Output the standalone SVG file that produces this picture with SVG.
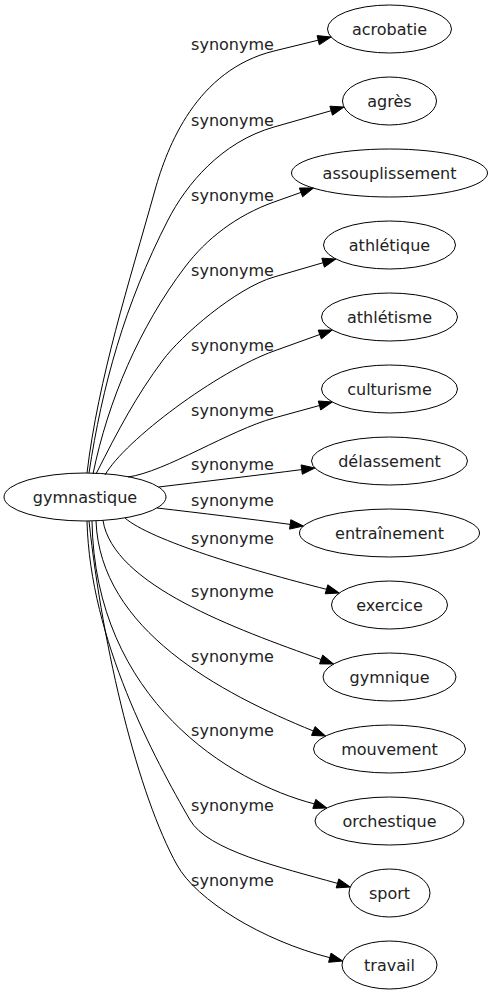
<svg xmlns="http://www.w3.org/2000/svg" width="493" height="995" viewBox="0 0 493 995">
<style>
  .node ellipse { fill: none; stroke: #000; stroke-width: 1; }
  text { font-family: "DejaVu Sans", "Liberation Sans", sans-serif; font-size: 16px; fill: #222; text-anchor: middle; }
  .edge path { fill: none; stroke: #000; stroke-width: 1; }
  .edge polygon { fill: #000; stroke: #000; stroke-width: 1; }
</style>
<rect width="493" height="995" fill="#fff"/>
<g id="edges" class="edge">
  <path d="M87,473 C98.6,377 129,283.4 155,190 C167.2,146.7 196.3,70 274,51 L318.2,40.2"/>
  <polygon points="331.1,37 319.3,44.8 317.1,35.6"/>
  <path d="M89,473 C102.2,385.9 124.6,304.5 168,220 C186.3,184.4 221.1,142.1 274,127 L331.2,110.7"/>
  <polygon points="344,107 332.5,115.2 329.9,106.2"/>
  <path d="M93,474 C108,400.5 139.7,326.8 185,267 C206.1,239.1 236.3,215.4 274,202 L301,192.4"/>
  <polygon points="313.5,188 302.6,196.8 299.4,188"/>
  <path d="M96,474 C118.5,429.5 136.1,396.1 163,360 C180.9,335.9 235.6,288.2 274,277 L323.1,262.7"/>
  <polygon points="335.9,259 324.4,267.2 321.8,258.2"/>
  <path d="M105,475 C125,440 217.5,371.3 274,351 L319.8,334.5"/>
  <polygon points="332.3,330 321.4,338.9 318.2,330.1"/>
  <path d="M128,477 C165,472 230,430 274,418 L319.5,405.5"/>
  <polygon points="332.3,402 320.7,410 318.3,401"/>
  <path d="M158.6,487 C200,482 260,475 301.7,469.6"/>
  <polygon points="314.9,468 302.3,474.3 301.1,464.9"/>
  <path d="M157,508 C200,513 250,519 290.2,524.4"/>
  <polygon points="303.4,526 289.6,529.1 290.8,519.7"/>
  <path d="M125,518 C150,540 250,570 326.5,589.3"/>
  <polygon points="339.3,593 325.2,593.8 327.8,584.8"/>
  <path d="M103,520.4 C113,585 236.4,629.2 321.1,659.5"/>
  <polygon points="333.6,664 319.5,663.9 322.7,655.1"/>
  <path d="M96,520.8 C100,630 220.7,693.2 313.3,731"/>
  <polygon points="325.6,736 311.5,735.4 315.1,726.6"/>
  <path d="M92,521 C95,700 230,782 314.3,803.9"/>
  <polygon points="326.9,808 312.8,808.4 315.8,799.4"/>
  <path d="M87,521 C90,640 155,759.4 190,820 C207.5,850.3 279.7,867.2 337.5,883.4"/>
  <polygon points="350.3,887 336.2,887.9 338.8,878.9"/>
  <path d="M89,521 C103,651 138.2,795 177,865 C196.4,900 262,940.4 329.8,957.7"/>
  <polygon points="342.7,961 328.6,962.3 331,953.1"/>
  <text x="232.5" y="50">synonyme</text>
  <text x="232.5" y="126">synonyme</text>
  <text x="232.5" y="201">synonyme</text>
  <text x="232.5" y="276">synonyme</text>
  <text x="232.5" y="351">synonyme</text>
  <text x="232.5" y="416">synonyme</text>
  <text x="232.5" y="469.5">synonyme</text>
  <text x="232.5" y="506">synonyme</text>
  <text x="232.5" y="543.5">synonyme</text>
  <text x="232.5" y="597">synonyme</text>
  <text x="232.5" y="662">synonyme</text>
  <text x="232.5" y="735.5">synonyme</text>
  <text x="232.5" y="810.5">synonyme</text>
  <text x="232.5" y="886">synonyme</text>
</g>
<g id="node-gymnastique" class="node"><ellipse cx="85" cy="497" rx="81" ry="24"/><text x="85" y="502.5">gymnastique</text></g>
<g id="node-acrobatie" class="node"><ellipse cx="389.5" cy="29" rx="62" ry="24"/><text x="389.5" y="34.5">acrobatie</text></g>
<g id="node-agres" class="node"><ellipse cx="389.5" cy="101" rx="47" ry="24"/><text x="389.5" y="106.5">agrès</text></g>
<g id="node-assouplissement" class="node"><ellipse cx="389.5" cy="173" rx="98" ry="24"/><text x="389.5" y="178.5">assouplissement</text></g>
<g id="node-athletique" class="node"><ellipse cx="389.5" cy="245" rx="66" ry="24"/><text x="389.5" y="250.5">athlétique</text></g>
<g id="node-athletisme" class="node"><ellipse cx="389.5" cy="317" rx="68" ry="24"/><text x="389.5" y="322.5">athlétisme</text></g>
<g id="node-culturisme" class="node"><ellipse cx="389.5" cy="389" rx="68" ry="24"/><text x="389.5" y="394.5">culturisme</text></g>
<g id="node-delassement" class="node"><ellipse cx="389.5" cy="461" rx="78" ry="24"/><text x="389.5" y="466.5">délassement</text></g>
<g id="node-entrainement" class="node"><ellipse cx="389.5" cy="533" rx="90" ry="24"/><text x="389.5" y="538.5">entraînement</text></g>
<g id="node-exercice" class="node"><ellipse cx="389.5" cy="605" rx="58" ry="24"/><text x="389.5" y="610.5">exercice</text></g>
<g id="node-gymnique" class="node"><ellipse cx="389.5" cy="677" rx="66.5" ry="24"/><text x="389.5" y="682.5">gymnique</text></g>
<g id="node-mouvement" class="node"><ellipse cx="389.5" cy="749" rx="76" ry="24"/><text x="389.5" y="754.5">mouvement</text></g>
<g id="node-orchestique" class="node"><ellipse cx="389.5" cy="821" rx="74.5" ry="24"/><text x="389.5" y="826.5">orchestique</text></g>
<g id="node-sport" class="node"><ellipse cx="389.5" cy="893" rx="40.5" ry="24"/><text x="389.5" y="898.5">sport</text></g>
<g id="node-travail" class="node"><ellipse cx="389.5" cy="965" rx="47.5" ry="24"/><text x="389.5" y="970.5">travail</text></g>
</svg>
